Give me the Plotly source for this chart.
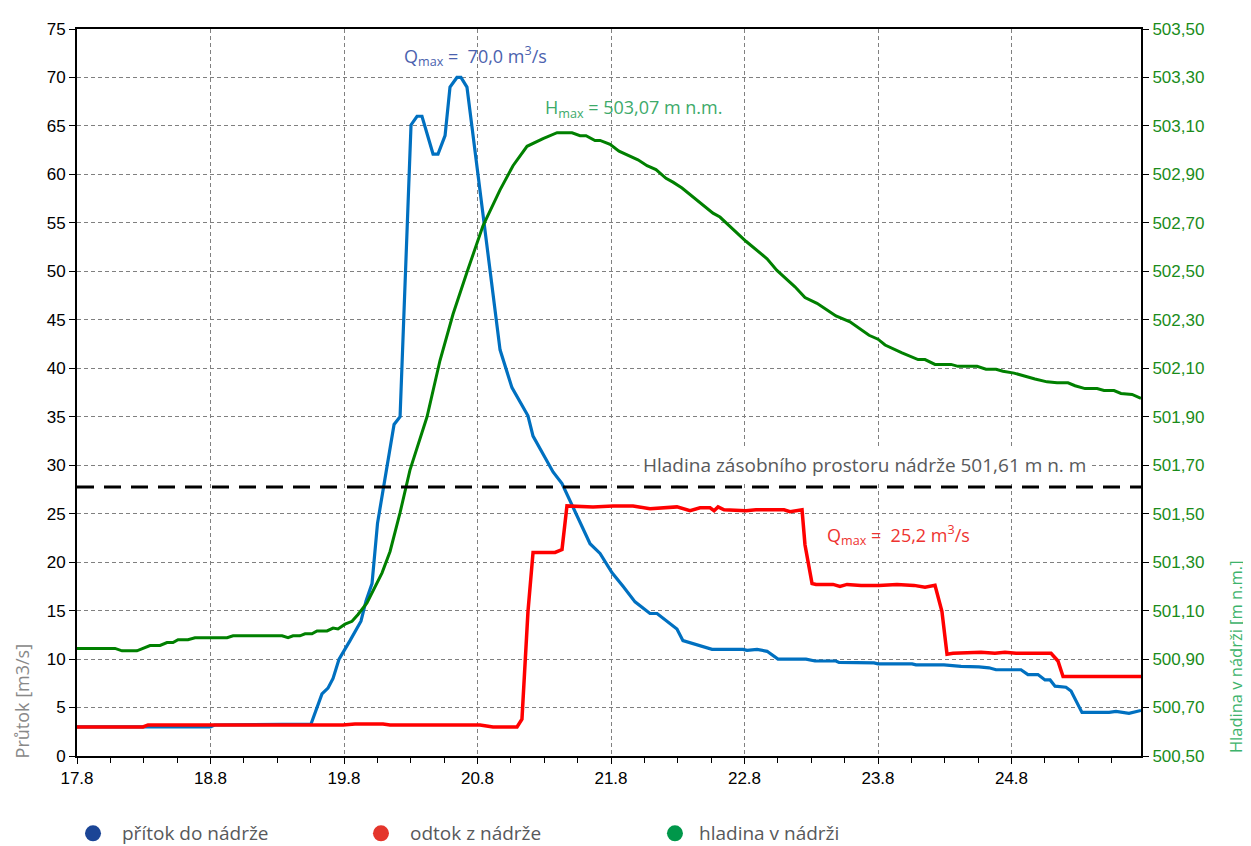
import plotly.graph_objects as go

# ---------------- data ----------------
inflow_day = [17.80, 18.80, 18.83, 19.553, 19.635, 19.68, 19.718, 19.763, 19.845, 19.927, 19.965, 20.01,
              20.051, 20.175, 20.22, 20.302, 20.347, 20.384, 20.467, 20.504, 20.557, 20.594, 20.646, 20.676,
              20.721, 20.804, 20.916, 20.969, 21.058, 21.178, 21.216, 21.366, 21.433, 21.643, 21.718, 21.808,
              21.89, 21.92, 21.98, 22.092, 22.145, 22.294, 22.339, 22.557, 22.789, 22.819, 22.894, 22.969,
              23.051, 23.261, 23.328, 23.485, 23.508, 23.77, 23.80, 24.055, 24.085, 24.294, 24.422, 24.556,
              24.631, 24.684, 24.871, 24.923, 24.998, 25.051, 25.089, 25.126, 25.208, 25.246, 25.328, 25.531,
              25.583, 25.68, 25.74, 25.77]
inflow_q = [3.0, 3.0, 3.2, 3.3, 6.4, 7.0, 8.0, 10.0, 11.9, 13.9, 16.0, 17.8,
            24.0, 34.2, 35.0, 65.1, 66.0, 66.0, 62.1, 62.1, 64.0, 69.0, 70.0, 70.0,
            69.0, 60.0, 47.4, 41.9, 38.0, 35.1, 33.0, 29.3, 28.1, 21.9, 20.9, 18.9,
            17.5, 17.0, 15.9, 14.7, 14.7, 13.1, 11.9, 11.0, 11.0, 10.9, 11.0, 10.8,
            10.0, 10.0, 9.8, 9.8, 9.65, 9.6, 9.5, 9.5, 9.4, 9.4, 9.25, 9.2,
            9.1, 8.9, 8.9, 8.4, 8.4, 7.85, 7.85, 7.2, 7.1, 6.7, 4.5, 4.5,
            4.6, 4.4, 4.6, 4.7]

outflow_day = [17.80, 18.294, 18.332, 19.793, 19.882, 20.092, 20.145, 20.819, 20.916, 21.096, 21.133, 21.178,
               21.216, 21.381, 21.433, 21.47, 21.665, 21.815, 21.965, 22.092, 22.294, 22.392, 22.467, 22.542,
               22.572, 22.602, 22.647, 22.811, 22.886, 23.096, 23.141, 23.231, 23.253, 23.306, 23.336, 23.463,
               23.515, 23.568, 23.673, 23.807, 23.942, 24.07, 24.152, 24.227, 24.279, 24.317, 24.362, 24.572,
               24.676, 24.751, 24.834, 25.096, 25.148, 25.186, 25.77]
outflow_q = [3.0, 3.0, 3.2, 3.2, 3.3, 3.3, 3.2, 3.2, 3.0, 3.0, 3.8, 14.9,
             21.0, 21.0, 21.3, 25.8, 25.7, 25.8, 25.8, 25.5, 25.7, 25.3, 25.6, 25.6,
             25.3, 25.7, 25.4, 25.3, 25.4, 25.4, 25.2, 25.4, 21.8, 17.8, 17.7, 17.7,
             17.5, 17.7, 17.6, 17.6, 17.7, 17.6, 17.4, 17.6, 14.9, 10.5, 10.6, 10.7,
             10.6, 10.7, 10.6, 10.6, 9.8, 8.2, 8.2]

level_day = [17.80, 18.085, 18.137, 18.249, 18.347, 18.422, 18.474, 18.519, 18.557, 18.631, 18.684, 18.924,
             18.969, 19.336, 19.381, 19.418, 19.47, 19.508, 19.56, 19.598, 19.673, 19.718, 19.755, 19.808,
             19.86, 19.905, 19.972, 20.017, 20.085, 20.145, 20.22, 20.294, 20.422, 20.519, 20.617, 20.721,
             20.841, 20.969, 21.066, 21.171, 21.291, 21.396, 21.508, 21.568, 21.613, 21.68, 21.718, 21.793,
             21.86, 22.002, 22.07, 22.137, 22.212, 22.264, 22.332, 22.564, 22.616, 22.811, 22.969, 23.043,
             23.178, 23.253, 23.343, 23.41, 23.485, 23.59, 23.658, 23.733, 23.80, 23.853, 23.98, 24.10,
             24.152, 24.227, 24.347, 24.399, 24.542, 24.609, 24.684, 24.736, 24.819, 24.894, 24.976, 25.066,
             25.141, 25.223, 25.276, 25.351, 25.441, 25.493, 25.568, 25.62, 25.703, 25.77]
level_h = [500.944, 500.944, 500.934, 500.934, 500.956, 500.956, 500.968, 500.968, 500.980, 500.980, 500.988, 500.988,
           500.996, 500.996, 500.988, 500.996, 500.996, 501.004, 501.004, 501.016, 501.016, 501.028, 501.024, 501.044,
           501.056, 501.084, 501.132, 501.180, 501.256, 501.344, 501.504, 501.680, 501.900, 502.132, 502.324, 502.496,
           502.688, 502.836, 502.936, 503.016, 503.048, 503.072, 503.072, 503.060, 503.060, 503.040, 503.040, 503.024,
           502.996, 502.960, 502.936, 502.920, 502.884, 502.868, 502.844, 502.740, 502.724, 502.624, 502.552, 502.504,
           502.436, 502.392, 502.368, 502.344, 502.316, 502.292, 502.264, 502.236, 502.220, 502.196, 502.164, 502.136,
           502.136, 502.116, 502.116, 502.108, 502.108, 502.096, 502.096, 502.088, 502.080, 502.068, 502.056, 502.044,
           502.040, 502.040, 502.028, 502.016, 502.016, 502.008, 502.008, 501.996, 501.992, 501.976]

storage_level = 501.61
x_ticks = [17.8, 18.8, 19.8, 20.8, 21.8, 22.8, 23.8, 24.8]
x_labels = ["17.8", "18.8", "19.8", "20.8", "21.8", "22.8", "23.8", "24.8"]
h_ticks = [500.5, 500.7, 500.9, 501.1, 501.3, 501.5, 501.7, 501.9, 502.1, 502.3, 502.5, 502.7, 502.9, 503.1, 503.3, 503.5]
h_labels = ["500,50", "500,70", "500,90", "501,10", "501,30", "501,50", "501,70", "501,90",
            "502,10", "502,30", "502,50", "502,70", "502,90", "503,10", "503,30", "503,50"]
legend_names = ["přítok do nádrže", "odtok z nádrže", "hladina v nádrži"]
legend_colors = ["#1b4596", "#e4352b", "#00974a"]

X_END = 25.77

fig = go.Figure()
fig.add_trace(go.Scatter(x=inflow_day, y=inflow_q, mode="lines", line=dict(color="#0070c0", width=3.2),
                         showlegend=False, hoverinfo="skip"))
fig.add_trace(go.Scatter(x=outflow_day, y=outflow_q, mode="lines", line=dict(color="#ff0000", width=3.5),
                         showlegend=False, hoverinfo="skip"))
fig.add_trace(go.Scatter(x=level_day, y=level_h, mode="lines", line=dict(color="#008000", width=3),
                         yaxis="y2", showlegend=False, hoverinfo="skip"))
fig.add_trace(go.Scatter(x=[17.8, X_END], y=[storage_level, storage_level], mode="lines",
                         line=dict(color="black", width=3, dash="17px,10px"), yaxis="y2",
                         showlegend=False, hoverinfo="skip"))

tickfont = dict(family="Liberation Sans, Arial", size=17, color="black")
grid = dict(showgrid=True, gridcolor="#808080", gridwidth=1, griddash="4px,3px")

# page body has an 8px margin, so the figure is reduced by 8px and margins adjusted
fig.update_layout(
    width=1243, height=838,
    margin=dict(l=69, r=110, t=15, b=90),
    plot_bgcolor="white", paper_bgcolor="white",
    font=dict(family="Open Sans", color="#58595b"),
    showlegend=False,
    xaxis=dict(range=[17.8, X_END], tickvals=x_ticks, ticktext=x_labels, tickfont=tickfont,
               ticks="outside", ticklen=6, tickcolor="black", showline=True, linecolor="black",
               linewidth=2, mirror=True, zeroline=False,
               minor=dict(dtick=0.25, tick0=17.8, ticks="outside", ticklen=5, tickcolor="black", showgrid=False),
               **grid),
    yaxis=dict(range=[0, 75], dtick=5, tick0=0, tickfont=tickfont, ticks="outside", ticklen=6,
               tickcolor="black", showline=True, linecolor="black", linewidth=2, zeroline=False, **grid),
    yaxis2=dict(range=[500.5, 503.5], overlaying="y", side="right", tickvals=h_ticks, ticktext=h_labels,
                tickfont=dict(family="Liberation Sans, Arial", size=17, color="#1a8c1a"),
                ticks="outside", ticklen=6, tickcolor="black", showline=True, linecolor="black",
                linewidth=2, showgrid=False, zeroline=False),
)

# legend drawn as circles + labels below the plot
legend_circle_x = [0.01504, 0.2857, 0.5620]
legend_text_x = [0.0404, 0.3111, 0.5827]
for name, col, cx, tx in zip(legend_names, legend_colors, legend_circle_x, legend_text_x):
    fig.add_shape(type="circle", xref="paper", yref="paper", xsizemode="pixel", ysizemode="pixel",
                  xanchor=cx, yanchor=-0.1064, x0=-8, x1=8, y0=-8, y1=8,
                  fillcolor=col, line=dict(width=0))
    fig.add_annotation(x=tx, y=-0.1064, xref="paper", yref="paper", showarrow=False,
                       xanchor="left", yanchor="middle", text=name,
                       font=dict(family="Open Sans", size=19, color="#58595b"))

fig.add_annotation(x=20.785, y=72.2, xref="x", yref="y", showarrow=False,
                   text="Q<sub>max</sub> =  70,0 m<sup>3</sup>/s",
                   font=dict(family="Open Sans", size=18, color="#4b62ae"))
fig.add_annotation(x=21.965, y=66.8, xref="x", yref="y", showarrow=False,
                   text="H<sub>max</sub> = 503,07 m n.m.",
                   font=dict(family="Open Sans", size=18, color="#3daa6a"))
fig.add_annotation(x=23.70, y=30.0, xref="x", yref="y", showarrow=False,
                   text="Hladina zásobního prostoru nádrže 501,61 m n. m",
                   bgcolor="white", borderpad=3,
                   font=dict(family="Open Sans", size=19, color="#58595b"))
fig.add_annotation(x=23.957, y=22.8, xref="x", yref="y", showarrow=False,
                   text="Q<sub>max</sub> =  25,2 m<sup>3</sup>/s",
                   font=dict(family="Open Sans", size=18, color="#ee3330"))
fig.add_annotation(x=-0.0517, y=0.0764, xref="paper", yref="paper", showarrow=False, textangle=-90,
                   xanchor="center", yanchor="middle",
                   text="Průtok [m3/s]", font=dict(family="Open Sans", size=18, color="#888888"))
fig.add_annotation(x=1.0895, y=0.1364, xref="paper", yref="paper", showarrow=False, textangle=-90,
                   xanchor="center", yanchor="middle",
                   text="Hladina v nádrži [m n.m.]", font=dict(family="Open Sans", size=16.5, color="#3db36b"))

fig.write_html("out.html")
